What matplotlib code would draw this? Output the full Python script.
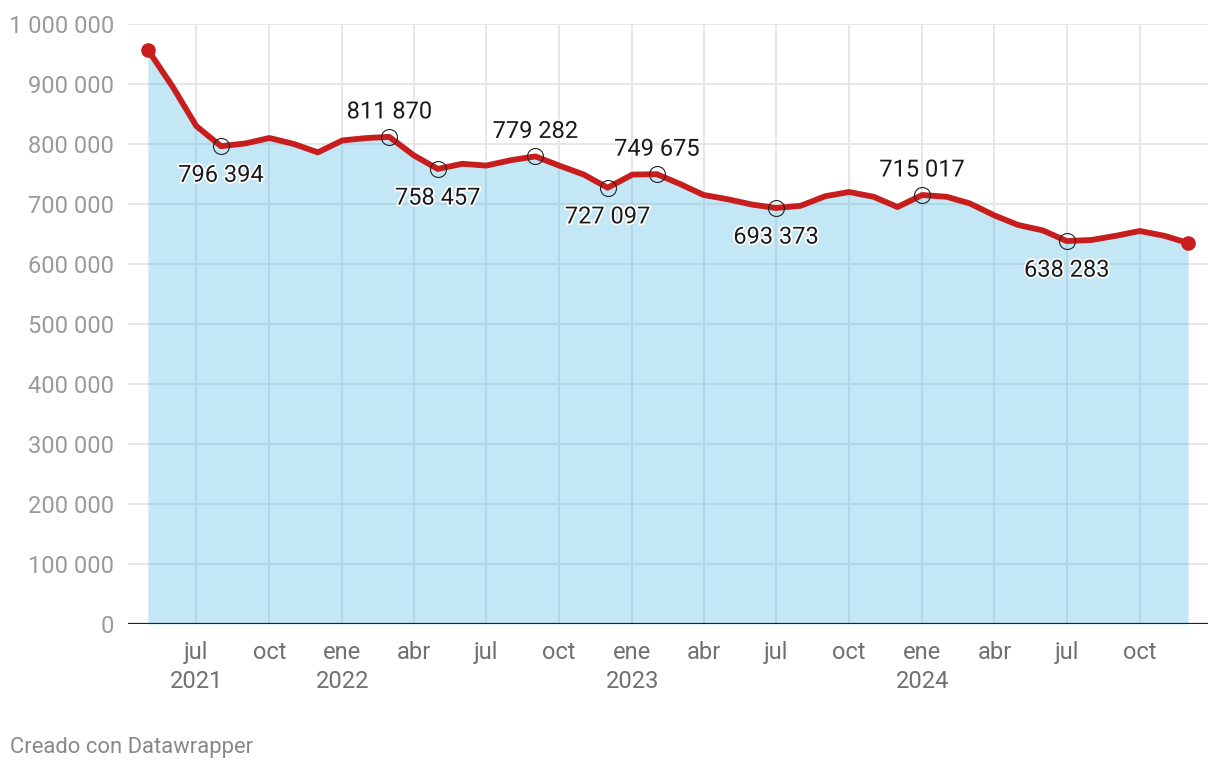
import matplotlib.pyplot as plt
import matplotlib.patheffects as pe
import pandas as pd

plt.rcParams['font.family'] = ['Roboto', 'DejaVu Sans']

# datos mensuales, mayo 2021 - diciembre 2024
meses = pd.date_range('2021-05-01', periods=44, freq='MS')
valores = [
    957000, 896000, 830000, 796394, 801000, 810000, 800000, 786000,
    806000, 810000, 811870, 781000, 758457, 767000, 764000, 773000,
    779282, 764000, 749000, 727097,
    749000, 749675, 734000, 715000, 708000, 699000, 693373, 697000,
    713000, 720000, 712000, 695000,
    715017, 712000, 701000, 681000, 665000, 656000, 638283, 640000,
    647000, 655000, 647000, 635000,
]

# puntos con etiqueta: (indice, posicion)
etiquetas_idx = [3, 10, 12, 16, 19, 21, 26, 32, 38]
etiquetas_pos = ['abajo', 'arriba', 'abajo', 'arriba', 'abajo', 'arriba', 'abajo', 'arriba', 'abajo']

ticks_x = pd.date_range('2021-07-01', '2024-10-01', freq='QS')
nombres_mes = {1: 'ene', 4: 'abr', 7: 'jul', 10: 'oct'}

rojo = '#c71e1d'
azul = '#4ab7e6'  # area semitransparente sobre la rejilla

fig = plt.figure(figsize=(12.2, 7.7), dpi=100)
ax = fig.add_axes([128 / 1220, 1 - 624 / 770, 1080 / 1220, 600 / 770])

ax.fill_between(meses, valores, 0, color=azul, alpha=0.32, lw=0, zorder=1)
ax.plot(meses, valores, color=rojo, lw=4.2, solid_joinstyle='round', solid_capstyle='round',
        zorder=4, clip_on=False)
ax.plot([meses[0], meses[-1]], [valores[0], valores[-1]], 'o', color=rojo, ms=9.5, zorder=5, clip_on=False)

fmt = lambda v: f'{v:,.0f}'.replace(',', ' ')
for i, pos in zip(etiquetas_idx, etiquetas_pos):
    ax.plot(meses[i], valores[i], 'o', mfc='none', mec='#222222', mew=0.8, ms=11.5, zorder=6)
    dy = -21 if pos == 'abajo' else 18
    ax.annotate(fmt(valores[i]), (meses[i], valores[i]), xytext=(0, dy), textcoords='offset points',
                ha='center', va='center', fontsize=17, color='#1a1a1a', zorder=7,
                path_effects=[pe.withStroke(linewidth=2.5, foreground='white')])

ax.set_ylim(0, 1000000)
ax.set_xlim(meses[0] - pd.Timedelta(days=25), meses[-1] + pd.Timedelta(days=25))

ax.set_yticks(range(0, 1000001, 100000))
ax.set_yticklabels([fmt(v) for v in range(0, 1000001, 100000)])
ax.set_xticks(ticks_x)
etiquetas_x = []
for k, d in enumerate(ticks_x):
    t = nombres_mes[d.month]
    if d.month == 1 or k == 0:
        t += '\n' + str(d.year)
    etiquetas_x.append(t)
ax.set_xticklabels(etiquetas_x, linespacing=1.35)

ax.tick_params(axis='y', length=0, pad=10, labelsize=17, labelcolor='#9a9a9a')
ax.tick_params(axis='x', length=0, pad=12, labelsize=17, labelcolor='#707070')

ax.grid(True, color='#e6e6e6', lw=1.4, zorder=0)
ax.set_axisbelow(True)
for s in ax.spines.values():
    s.set_visible(False)
ax.axhline(0, color='#222222', lw=1.6, zorder=3)

fig.text(10 / 1220, 1 - 747 / 770, 'Creado con Datawrapper', fontsize=15.8, color='#888888', va='center')

fig.savefig('out.png', dpi=100)
